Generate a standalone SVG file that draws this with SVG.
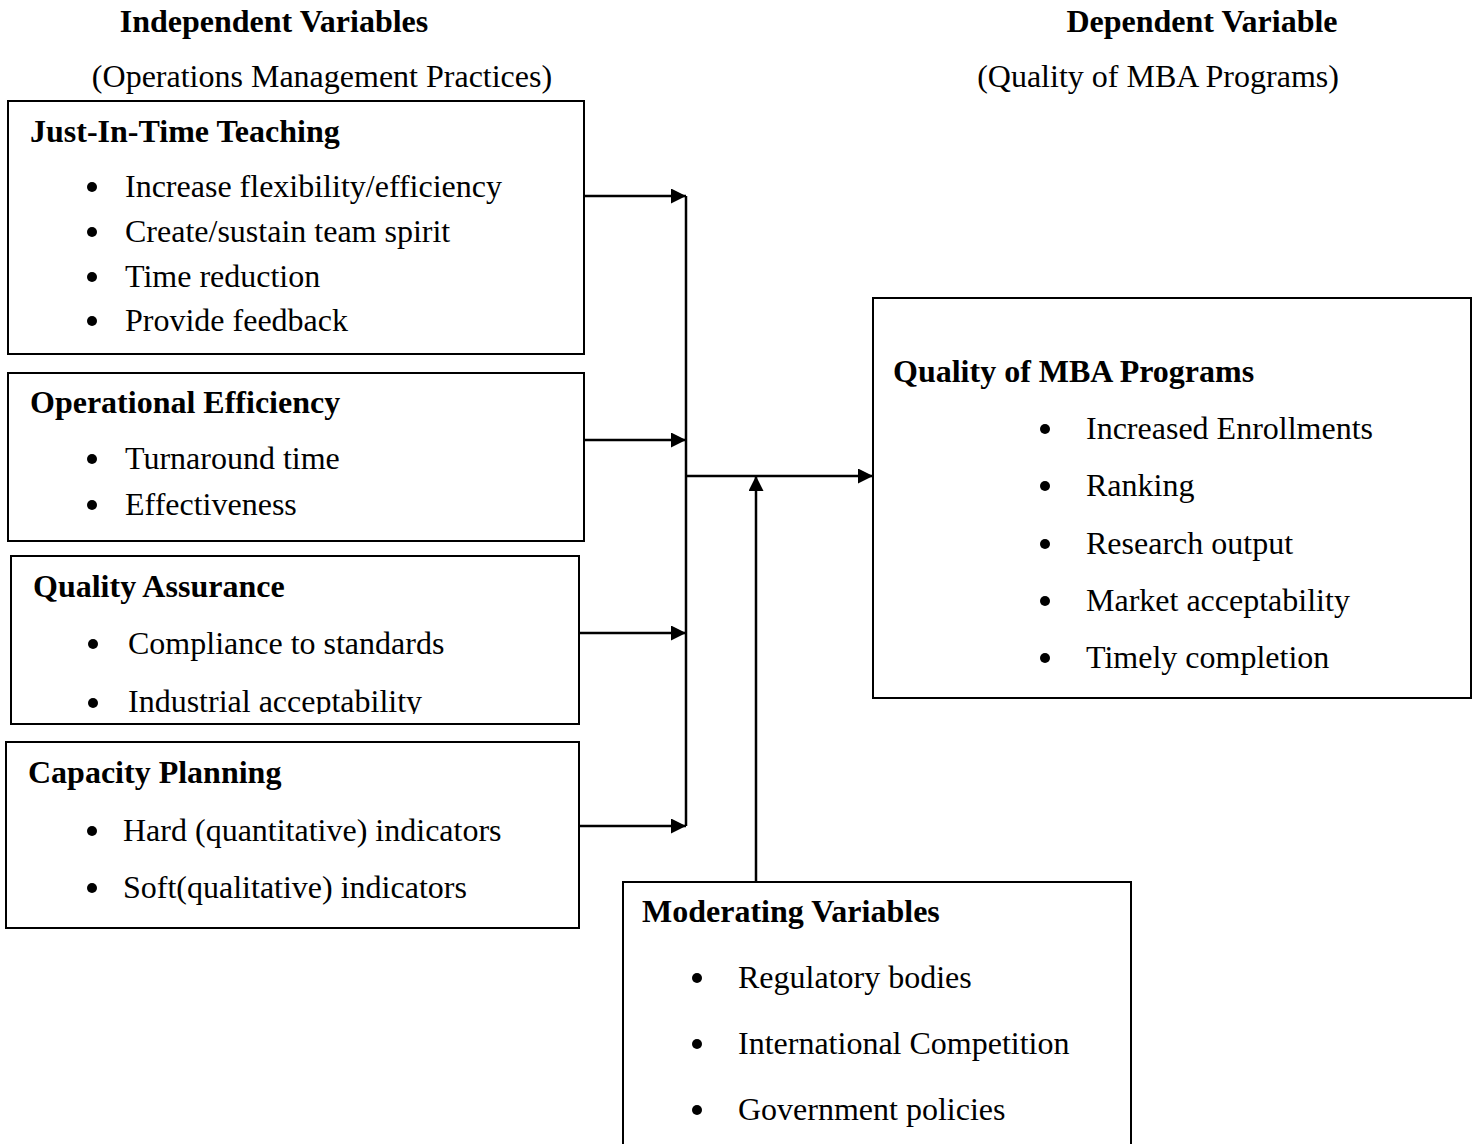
<svg xmlns="http://www.w3.org/2000/svg" width="1476" height="1144" viewBox="0 0 1476 1144">
<style>
text{font-family:"Liberation Serif","Times New Roman",serif;font-size:32px;fill:#000}
.b{font-weight:bold}
.box{fill:#fff;stroke:#000;stroke-width:2}
.dot{fill:#000}
.ln{stroke:#000;stroke-width:2.5;fill:none}
</style>
<defs>
<marker id="ah" viewBox="0 0 10 10" refX="10" refY="5" markerWidth="18" markerHeight="15" markerUnits="userSpaceOnUse" orient="auto">
<path d="M0,0 L10,5 L0,10 z" fill="#000"/>
</marker>
<clipPath id="c3"><rect x="0" y="556" width="600" height="158"/></clipPath>
</defs>
<rect width="1476" height="1144" fill="#fff"/>
<g id="headers">
<text class="b" x="274" y="32" text-anchor="middle">Independent Variables</text>
<text x="322" y="87" text-anchor="middle">(Operations Management Practices)</text>
<text class="b" x="1202" y="32" text-anchor="middle">Dependent Variable</text>
<text x="1158" y="87" text-anchor="middle">(Quality of MBA Programs)</text>
</g>
<g id="jit">
<rect class="box" x="8" y="101" width="576" height="253"/>
<text class="b" x="30" y="142">Just-In-Time Teaching</text>
<circle class="dot" cx="92" cy="187" r="5"/><text x="125" y="197">Increase flexibility/efficiency</text>
<circle class="dot" cx="92" cy="232" r="5"/><text x="125" y="242">Create/sustain team spirit</text>
<circle class="dot" cx="92" cy="277" r="5"/><text x="125" y="287">Time reduction</text>
<circle class="dot" cx="92" cy="321" r="5"/><text x="125" y="331">Provide feedback</text>
</g>
<g id="opeff">
<rect class="box" x="8" y="373" width="576" height="168"/>
<text class="b" x="30" y="413">Operational Efficiency</text>
<circle class="dot" cx="92" cy="459" r="5"/><text x="125" y="469">Turnaround time</text>
<circle class="dot" cx="92" cy="505" r="5"/><text x="125" y="515">Effectiveness</text>
</g>
<g id="qa">
<rect class="box" x="11" y="556" width="568" height="168"/>
<text class="b" x="33" y="597">Quality Assurance</text>
<circle class="dot" cx="93" cy="644" r="5"/><text x="128" y="654">Compliance to standards</text>
<g clip-path="url(#c3)"><circle class="dot" cx="93" cy="703" r="5"/><text x="128" y="712">Industrial acceptability</text></g>
</g>
<g id="cap">
<rect class="box" x="6" y="742" width="573" height="186"/>
<text class="b" x="28" y="783">Capacity Planning</text>
<circle class="dot" cx="92" cy="831" r="5"/><text x="123" y="841">Hard (quantitative) indicators</text>
<circle class="dot" cx="92" cy="888" r="5"/><text x="123" y="898">Soft(qualitative) indicators</text>
</g>
<g id="quality">
<rect class="box" x="873" y="298" width="598" height="400"/>
<text class="b" x="893" y="382">Quality of MBA Programs</text>
<circle class="dot" cx="1045" cy="429" r="5"/><text x="1086" y="439">Increased Enrollments</text>
<circle class="dot" cx="1045" cy="486" r="5"/><text x="1086" y="496">Ranking</text>
<circle class="dot" cx="1045" cy="544" r="5"/><text x="1086" y="554">Research output</text>
<circle class="dot" cx="1045" cy="601" r="5"/><text x="1086" y="611">Market acceptability</text>
<circle class="dot" cx="1045" cy="658" r="5"/><text x="1086" y="668">Timely completion</text>
</g>
<g id="moderating">
<rect class="box" x="623" y="882" width="508" height="270"/>
<text class="b" x="642" y="922">Moderating Variables</text>
<circle class="dot" cx="697" cy="978" r="5"/><text x="738" y="988">Regulatory bodies</text>
<circle class="dot" cx="697" cy="1044" r="5"/><text x="738" y="1054">International Competition</text>
<circle class="dot" cx="697" cy="1110" r="5"/><text x="738" y="1120">Government policies</text>
</g>
<g id="connectors">
<line class="ln" x1="686" y1="196" x2="686" y2="826"/>
<line class="ln" x1="584" y1="196" x2="686" y2="196" marker-end="url(#ah)"/>
<line class="ln" x1="584" y1="440" x2="686" y2="440" marker-end="url(#ah)"/>
<line class="ln" x1="579" y1="633" x2="686" y2="633" marker-end="url(#ah)"/>
<line class="ln" x1="579" y1="826" x2="686" y2="826" marker-end="url(#ah)"/>
<line class="ln" x1="686" y1="476" x2="873" y2="476" marker-end="url(#ah)"/>
<line class="ln" x1="756" y1="882" x2="756" y2="476" marker-end="url(#ah)"/>
</g>
</svg>
